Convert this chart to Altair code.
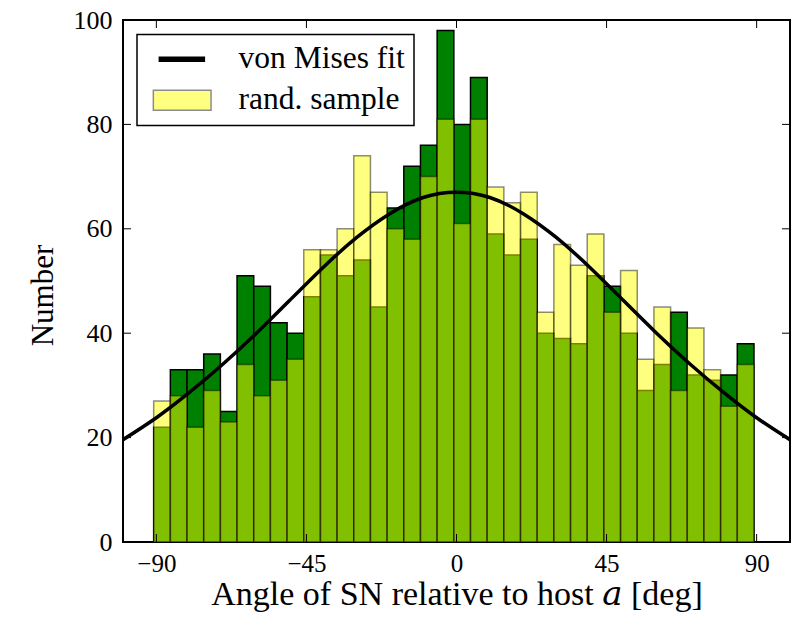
import altair as alt
import pandas as pd

# --- histogram data: 5-degree bins ---------------------------------------
bin_left = [-90.8 + 5 * i for i in range(36)]
sn_counts = [22, 33, 33, 36, 25, 51, 49, 42, 40, 47, 55, 51, 54, 45, 64, 72, 76, 98,
             80, 89, 59, 55, 58, 40, 39, 38, 51, 49, 40, 29, 34, 44, 32, 31, 32, 38]
rand_counts = [27, 28, 22, 29, 23, 34, 28, 31, 35, 56, 56, 60, 74, 67, 60, 58, 70, 81,
               61, 81, 68, 65, 67, 44, 57, 53, 59, 44, 52, 35, 45, 29, 41, 33, 26, 34]

# --- von Mises fit curve ----------------------------------------------------
fit_angle = [-100, -90, -80, -70, -60, -50, -40, -30, -20, -10, 0,
             10, 20, 30, 40, 50, 60, 70, 80, 90, 100]
fit_value = [19.6, 23.8, 28.7, 34.1, 40.0, 46.3, 52.6, 58.3, 62.9, 66.0, 67.0,
             66.0, 62.9, 58.3, 52.6, 46.3, 40.0, 34.1, 28.7, 23.8, 19.6]

x_ticks = [-90, -45, 0, 45, 90]
y_ticks = [0, 20, 40, 60, 80, 100]
series_names = ["von Mises fit", "rand. sample"]

FONT = "Liberation Serif"
TITLE_FONT = "Liberation Serif, DejaVu Serif"
W, H = 667, 522
TICK = 8

hist = pd.DataFrame({
    "lo": bin_left,
    "hi": [b + 5 for b in bin_left],
    "base": [0] * len(bin_left),
    "sn": sn_counts,
    "rand": rand_counts,
})
fit = pd.DataFrame({"angle": fit_angle, "value": fit_value})
xt = pd.DataFrame({"angle": x_ticks})
yt = pd.DataFrame({"value": y_ticks})
leg = pd.DataFrame({"series": series_names})

xs = alt.Scale(domain=[-100, 100], nice=False, zero=False)
ys = alt.Scale(domain=[0, 100], nice=False)
x_title = "Angle of SN relative to host 𝑎 [deg]"
y_title = "Number"

x_axis = alt.Axis(values=x_ticks, ticks=False, domain=False, grid=False,
                  labelFont=FONT, labelFontSize=25, labelColor="black",
                  labelPadding=9, titleFont=TITLE_FONT, titleFontSize=34,
                  titleFontWeight="normal", titleColor="black", titlePadding=1)
y_axis = alt.Axis(values=y_ticks, ticks=False, domain=False, grid=False,
                  labelFont=FONT, labelFontSize=26, labelColor="black",
                  labelPadding=11, titleFont=FONT, titleFontSize=31,
                  titleFontWeight="normal", titleColor="black", titlePadding=14,
                  titleY=275)


def X(field):
    return alt.X(field, type="quantitative", scale=xs, axis=x_axis, title=x_title)


def Y(field):
    return alt.Y(field, type="quantitative", scale=ys, axis=y_axis, title=y_title)


sn_bars = alt.Chart(hist).mark_rect(
    fill="#008000", stroke="black", strokeWidth=1.5
).encode(x=X("lo"), x2="hi", y=Y("sn"), y2="base")

rand_bars = alt.Chart(hist).mark_rect(
    fill="yellow", fillOpacity=0.5, stroke="black", strokeOpacity=0.45, strokeWidth=1.5
).encode(x=X("lo"), x2="hi", y=Y("rand"), y2="base")

fit_line = alt.Chart(fit).mark_line(
    color="black", strokeWidth=3.5, interpolate="natural", clip=True
).encode(x=X("angle"), y=Y("value"))

# inward ticks on all four sides
tick_top = alt.Chart(xt).mark_rule(color="black", strokeWidth=1).encode(
    x=X("angle"), y=alt.value(0), y2=alt.value(TICK))
tick_bottom = alt.Chart(xt).mark_rule(color="black", strokeWidth=1).encode(
    x=X("angle"), y=alt.value(H), y2=alt.value(H - TICK))
tick_left = alt.Chart(yt).mark_rule(color="black", strokeWidth=1).encode(
    y=Y("value"), x=alt.value(0), x2=alt.value(TICK))
tick_right = alt.Chart(yt).mark_rule(color="black", strokeWidth=1).encode(
    y=Y("value"), x=alt.value(W), x2=alt.value(W - TICK))

# legend entries: a thick line for the fit, a pale patch for the random sample
line_sym = "M-0.24,-0.2H4.26V0.2H-0.24Z"
patch_sym = "M-0.84,-1H4.93V1H-0.84Z"
legend_def = alt.Legend(
    orient="none", legendX=14, legendY=14.5, title=None,
    padding=9, labelOffset=61, rowPadding=7.9,
    labelFont=FONT, labelFontSize=31.5, labelColor="black", labelLimit=500,
    strokeColor="black", fillColor="white", cornerRadius=0,
    symbolSize=400, symbolStrokeWidth=1.5,
)
legend_layer = alt.Chart(leg).mark_point(
    filled=True, opacity=1, size=400, strokeWidth=1.5, clip=True
).encode(
    x=alt.value(-500), y=alt.value(-500),
    color=alt.Color("series:N", scale=alt.Scale(domain=series_names, range=["black", "#ffff80"]),
                    legend=legend_def),
    stroke=alt.Stroke("series:N", scale=alt.Scale(domain=series_names, range=["black", "#8c8c8c"]),
                      legend=legend_def),
    shape=alt.Shape("series:N", scale=alt.Scale(domain=series_names, range=[line_sym, patch_sym]),
                    legend=legend_def),
)

chart = alt.layer(
    sn_bars, rand_bars, fit_line, tick_top, tick_bottom, tick_left, tick_right, legend_layer
).properties(
    width=W, height=H,
    autosize=alt.AutoSizeParams(type="none"),
    padding={"left": 123, "top": 20, "right": 4, "bottom": 78},
    background="white",
).configure_view(
    stroke="black", strokeWidth=2
).configure_legend(strokeWidth=1.5)

chart.save("out.html", embed_options={"renderer": "svg", "actions": False})
